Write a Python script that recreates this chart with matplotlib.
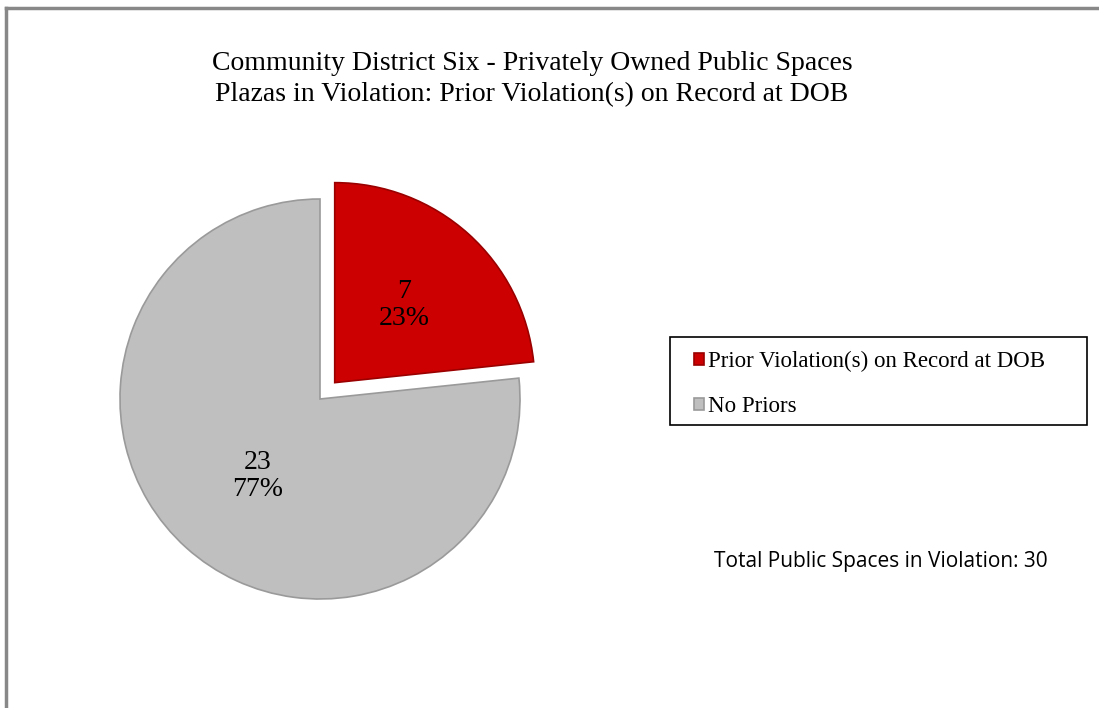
import matplotlib
matplotlib.use("Agg")
import matplotlib.pyplot as plt
from matplotlib.patches import Rectangle
from matplotlib.lines import Line2D

# data
labels = ["Prior Violation(s) on Record at DOB", "No Priors"]
counts = [7, 23]
colors = ["#CC0000", "#BFBFBF"]
title = "Community District Six - Privately Owned Public Spaces\nPlazas in Violation: Prior Violation(s) on Record at DOB"
note = "Total Public Spaces in Violation: 30"

W, H = 1099, 708
fig = plt.figure(figsize=(W / 100, H / 100), dpi=100)
ax = fig.add_axes([0, 0, 1, 1])

# grey page border (top and left)
fig.add_artist(Line2D([6 / W, 6 / W], [0, 1 - 8 / H], color="#888888", lw=2.5))
fig.add_artist(Line2D([6 / W, 1], [1 - 8 / H, 1 - 8 / H], color="#888888", lw=2.5))

total = sum(counts)


def fmt(pct):
    n = int(round(pct * total / 100.0))
    return "%d\n%d%%" % (n, round(pct))


wedges, texts, autotexts = ax.pie(
    counts, colors=colors, startangle=90, counterclock=False,
    center=(320, H - 399), radius=200, explode=[22, 0],
    autopct=fmt, pctdistance=0.52, frame=True,
    wedgeprops=dict(edgecolor="#9a9a9a", linewidth=1.2),
    textprops=dict(family="Liberation Serif", fontsize=20, linespacing=1.1))
wedges[0].set_edgecolor("#9a0000")
autotexts[1].set_x(autotexts[1].get_position()[0] + 7)
ax.set_xlim(0, W)
ax.set_ylim(0, H)
ax.set_aspect("equal")
ax.axis("off")

fig.text(532 / W, 1 - 79 / H, title, ha="center", va="center",
         family="Liberation Serif", fontsize=20, linespacing=1.3)

# legend
fig.add_artist(Rectangle((670 / W, 1 - 425 / H), 417 / W, 88 / H,
                         transform=fig.transFigure, fill=False,
                         edgecolor="black", lw=1.2))
leg = fig.legend(wedges, labels, loc="upper left",
                 bbox_to_anchor=(694 / W, 1 - 351 / H), frameon=False,
                 borderaxespad=0, borderpad=0, handlelength=0.45,
                 handleheight=0.45, handletextpad=0.15, labelspacing=1.05,
                 prop=dict(family="Liberation Serif", size=16.5))

fig.text(714 / W, 1 - 562 / H, note, ha="left", va="center",
         family="Open Sans", fontsize=15)

plt.savefig("out.png", dpi=100)
